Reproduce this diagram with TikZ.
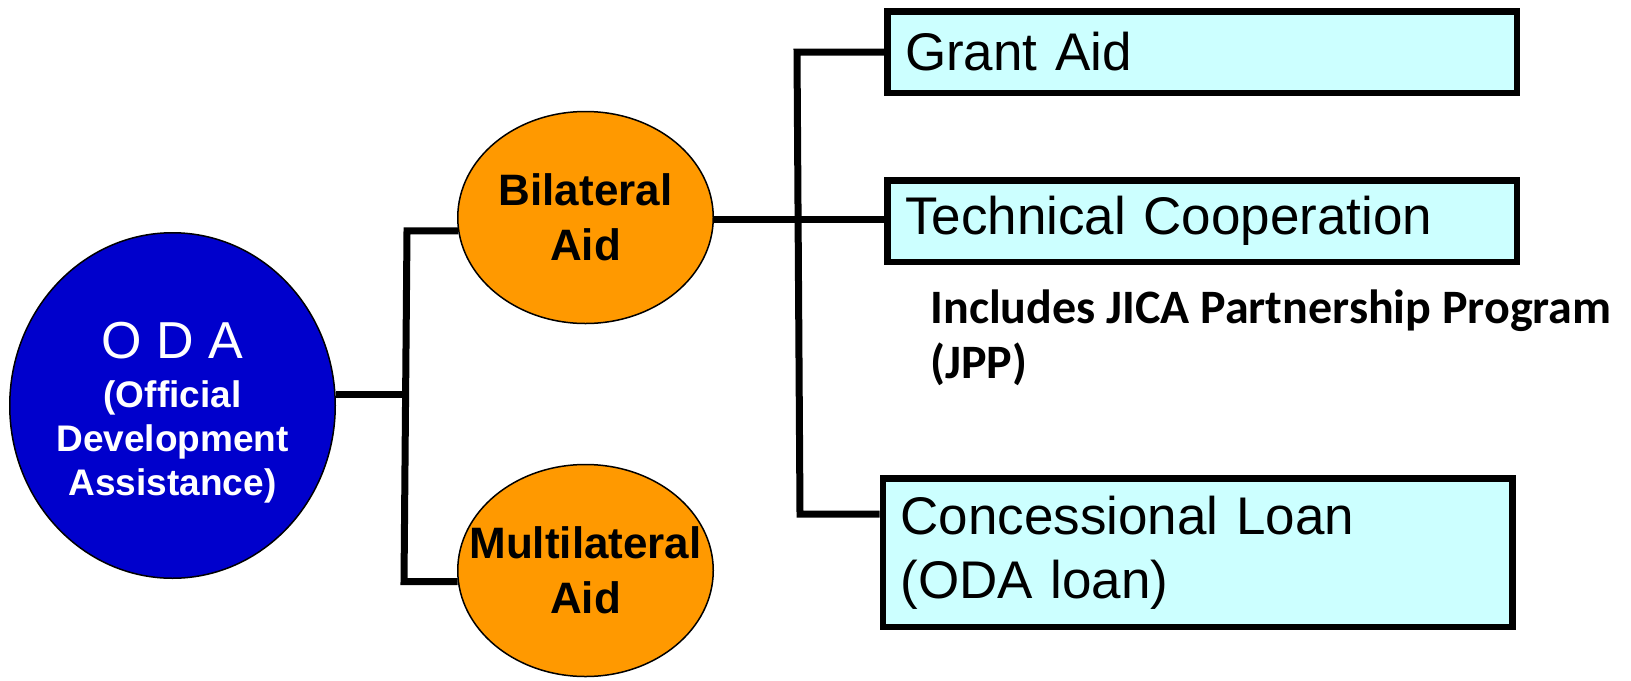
\documentclass[tikz,border=0pt]{standalone}
\usepackage{fontspec}
\setmainfont{Liberation Sans}
\newfontfamily\calib{Carlito}
\usetikzlibrary{shapes.geometric}
\definecolor{odablue}{HTML}{0000CC}
\definecolor{aidorange}{HTML}{FF9900}
\definecolor{boxcyan}{HTML}{CCFFFF}
\tikzset{
	aidoval/.style={ellipse, draw=black, line width=0.75pt, fill=aidorange, minimum width=127.75pt, minimum height=106pt, inner ysep=0pt, inner xsep=-20pt, align=center, font=\bfseries\fontsize{22}{27.5}\selectfont},
	aidbox/.style={rectangle, draw=black, line width=3.25pt, fill=boxcyan, minimum width=314.75pt, inner xsep=8.5pt, text width=297pt, align=left, font=\fontsize{26.5}{32}\selectfont},
	link/.style={line width=3.5pt}
}
\begin{document}
\begin{tikzpicture}[x=0.5pt, y=-0.5pt, line join=miter]
	\useasboundingbox (0,0) rectangle (1631,680);
	\path (407,231) coordinate (lt)
		(404,581) coordinate (lb)
		(797,52) coordinate (rt)
		(800,514) coordinate (rb);
	\node[ellipse, draw=black, line width=0.75pt, fill=odablue, text=white, minimum width=162.75pt, minimum height=172.75pt, inner ysep=0pt, inner xsep=-5pt, align=center, font=\bfseries\fontsize{18.5}{22}\selectfont] (oda) at (172.5,405.5) {{\mdseries\fontsize{26}{30}\selectfont\rule{0pt}{25pt}O D A}\\[2.5pt](Official\\Development\\Assistance)};
	\node[aidoval] (bi) at (585.5,217.5) {Bilateral\\Aid};
	\node[aidoval] (mu) at (585.5,570.5) {Multilateral\\Aid};
	\foreach \n/\x/\y/\h/\t in {gr/1202/52/40.75pt/{Grant Aid}, tc/1202/221/40.75pt/{Technical Cooperation}, cl/1197.5/552.5/74.25pt/{Concessional Loan\\(ODA loan)}}{
		\node[aidbox, minimum height=\h] (\n) at (\x,\y) {\t};}
	\node[anchor=north west, inner sep=0pt, align=left, font=\calib\bfseries\fontsize{24}{27.5}\selectfont] (jpp) at (930,289) {Includes JICA Partnership Program\\(JPP)};
	\draw[link] (oda.4) -- (oda.4 -| lt);
	\draw[link] (bi.186) -- (bi.186 -| lt) -- (mu.185 -| lb) -- (mu.185);
	\draw[link] (bi.-1) -- (bi.-1 -| tc.west);
	\draw[link] (gr.west) -- (gr.west -| rt) -- (rb) -- (rb -| cl.west);
\end{tikzpicture}
\end{document}
